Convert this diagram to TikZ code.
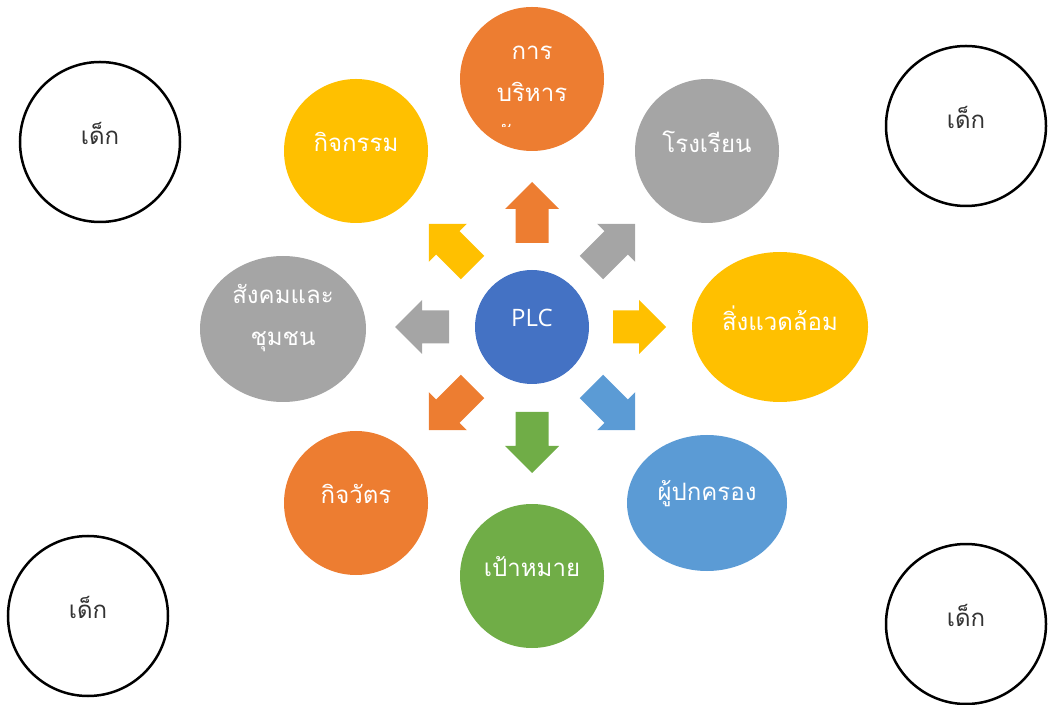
\documentclass[tikz,border=0pt]{standalone}
\usepackage{fontspec}
\usepackage{tikz}
\usetikzlibrary{shapes.geometric}

\newfontfamily\thaifont[Script=Thai]{Loma}
\newfontfamily\latinfont{Open Sans}

\definecolor{orangeC}{HTML}{ED7D31}
\definecolor{grayC}{HTML}{A5A5A5}
\definecolor{goldC}{HTML}{FFC000}
\definecolor{blueC}{HTML}{4472C4}
\definecolor{skyC}{HTML}{5B9BD5}
\definecolor{greenC}{HTML}{70AD47}

% block arrow: colour, direction, distance of tail from centre, length
\newcommand{\plcarrow}[4]{%
  \fill[#1,shift={(plc.center)},rotate=#2]
    (#3,-16.5) -- ({#3+#4-27},-16.5) -- ({#3+#4-27},-27) -- ({#3+#4},0)
    -- ({#3+#4-27},27) -- ({#3+#4-27},16.5) -- (#3,16.5) -- cycle;}

\tikzset{
  bubble/.style={circle,inner sep=0pt,minimum size=144pt},
  oval/.style={ellipse,inner sep=0pt},
  kid/.style={circle,draw=black,line width=2.5pt,inner sep=0pt,minimum size=160pt},
  txt/.style={text=white,font=\thaifont\fontsize{24}{42}\selectfont,align=center},
  kidtxt/.style={text=black!80,font=\thaifont\fontsize{24}{42}\selectfont}
}

\begin{document}
\begin{tikzpicture}[x=1pt,y=1pt]
			\useasboundingbox (0,0) rectangle (1048,704);

			% centre
			\node[circle,fill=blueC,inner sep=0pt,minimum size=114pt,
				label={[text=white,font=\latinfont\fontsize{24}{30}\selectfont,yshift=9pt]center:PLC}] (plc) at (532,377) {};

			% surrounding bubbles
			\node[bubble,fill=orangeC] (admin) at (532,625) {};
			\begin{scope}
				\clip (460,577) rectangle (604,704);
				\node[txt] (admintext) at (532,609) {การ\\บริหาร\\จัดการ};
			\end{scope}
			\node[bubble,fill=goldC,label={[txt,yshift=9pt]center:กิจกรรม}] (activity) at (356,553) {};
			\node[bubble,fill=grayC,label={[txt,yshift=9pt]center:โรงเรียน}] (school) at (707,553) {};
			\node[oval,fill=grayC,minimum width=166pt,minimum height=146pt,
				label={[txt,yshift=11pt]center:{สังคมและ\\ชุมชน}}] (society) at (283,375) {};
			\node[oval,fill=goldC,minimum width=176pt,minimum height=150pt,
				label={[txt,yshift=9pt]center:สิ่งแวดล้อม}] (environment) at (780,377) {};
			\node[bubble,fill=orangeC,label={[txt,yshift=9pt]center:กิจวัตร}] (routine) at (356,201) {};
			\node[bubble,fill=greenC,label={[txt,yshift=9pt]center:เป้าหมาย}] (goal) at (532,128) {};
			\node[oval,fill=skyC,minimum width=160pt,minimum height=136pt,
				label={[txt,yshift=9pt]center:ผู้ปกครอง}] (parents) at (707,201) {};

			% block arrows
			\plcarrow{orangeC}{90}{84}{61}
			\plcarrow{grayC}{45}{84}{62}
			\plcarrow{goldC}{0}{81}{53}
			\plcarrow{skyC}{-45}{84}{62}
			\plcarrow{greenC}{-90}{85}{61}
			\plcarrow{orangeC}{-135}{84}{62}
			\plcarrow{grayC}{180}{83}{54}
			\plcarrow{goldC}{135}{84}{62}

			% children in the corners
			\node[kid,label={[kidtxt,yshift=9pt]center:เด็ก}] (kidA) at (100,562) {};
			\node[kid,label={[kidtxt,yshift=9pt]center:เด็ก}] (kidB) at (966,578) {};
			\node[kid,label={[kidtxt,yshift=9pt]center:เด็ก}] (kidC) at (88,88) {};
			\node[kid,label={[kidtxt,yshift=9pt]center:เด็ก}] (kidD) at (966,80) {};
		\end{tikzpicture}
\end{document}
